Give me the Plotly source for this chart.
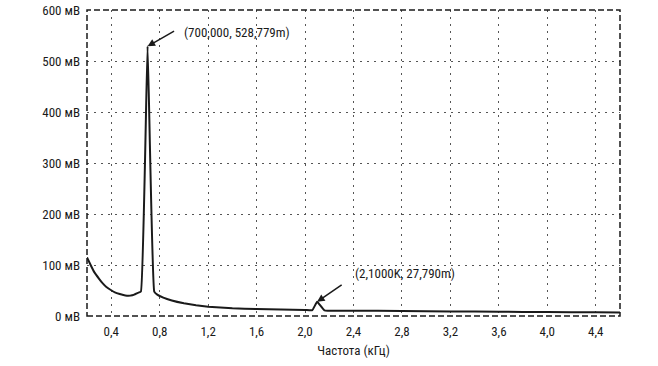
import plotly.graph_objects as go

# Data (frequency in kHz, amplitude in mV)
freq_khz = [0.20, 0.23, 0.26, 0.30, 0.33, 0.36, 0.40, 0.43, 0.47, 0.50, 0.53, 0.56, 0.59,
            0.62, 0.645, 0.70, 0.755, 0.78, 0.83, 0.90, 1.00, 1.10, 1.20, 1.40, 1.60,
            1.80, 2.00, 2.06, 2.10, 2.16, 2.40, 2.80, 3.20, 3.60, 4.00, 4.40, 4.60]
ampl_mv = [115, 100, 86, 73, 64, 57, 50.5, 46.5, 43, 41, 39.8, 40, 42,
           45.5, 48, 528.779, 48, 42, 36, 30.5, 25, 21, 18.3, 15, 13.7,
           12.8, 12, 11.5, 27.79, 11, 10.5, 9.8, 9, 8.3, 7.7, 7.2, 7]

x_tickvals = [0.4, 0.8, 1.2, 1.6, 2.0, 2.4, 2.8, 3.2, 3.6, 4.0, 4.4]
x_ticktext = ["0,4", "0,8", "1,2", "1,6", "2,0", "2,4", "2,8", "3,2", "3,6", "4,0", "4,4"]
y_tickvals = [0, 100, 200, 300, 400, 500, 600]
y_ticktext = ["0 мВ", "100 мВ", "200 мВ", "300 мВ", "400 мВ", "500 мВ", "600 мВ"]

peak1 = (0.7, 528.779, "(700,000, 528,779m)")
peak2 = (2.1, 27.79, "(2,1000K, 27,790m)")

FONT = "Liberation Sans Narrow, Arial Narrow, Roboto Condensed, Roboto, sans-serif"
INK = "#1a1a1a"

fig = go.Figure()
fig.add_trace(go.Scatter(x=freq_khz, y=ampl_mv, mode="lines",
                         line=dict(color=INK, width=2, shape="spline", smoothing=0.3),
                         hoverinfo="skip"))

fig.update_layout(
    width=658, height=366,
    margin=dict(l=87, r=38, t=10, b=50),
    paper_bgcolor="white", plot_bgcolor="white",
    showlegend=False,
    font=dict(family=FONT, size=13, color=INK),
)
fig.update_xaxes(range=[0.2, 4.6], tickvals=x_tickvals, ticktext=x_ticktext,
                 showgrid=True, gridcolor="#555", gridwidth=1, griddash="2px,5px",
                 zeroline=False, showline=False, ticks="", ticklabelstandoff=6,
                 automargin=False,
                 title=dict(text="Частота (кГц)", standoff=7, font=dict(size=13)))
fig.update_yaxes(range=[0, 600], tickvals=y_tickvals, ticktext=y_ticktext,
                 showgrid=True, gridcolor="#555", gridwidth=1, griddash="2px,5px",
                 zeroline=False, showline=False, ticks="", ticklabelstandoff=6,
                 automargin=False)

fig.add_shape(type="rect", xref="paper", yref="paper", x0=0, x1=1, y0=0, y1=1,
              line=dict(color=INK, width=1.5, dash="6px,3px"), layer="above")

# arrows
fig.add_annotation(x=peak1[0], y=peak1[1], text="", showarrow=True, ax=28, ay=-16,
                   arrowhead=2, arrowsize=1, arrowwidth=1.5, arrowcolor=INK)
fig.add_annotation(x=peak2[0], y=peak2[1], text="", showarrow=True, ax=26, ay=-18,
                   arrowhead=2, arrowsize=1, arrowwidth=1.5, arrowcolor=INK)
# labels
fig.add_annotation(x=0.985, y=555, text=peak1[2], showarrow=False,
                   xanchor="left", yanchor="middle", font=dict(size=13, color=INK))
fig.add_annotation(x=2.395, y=83, text=peak2[2], showarrow=False,
                   xanchor="left", yanchor="middle", font=dict(size=13, color=INK))

fig.write_html("out.html", config={"displayModeBar": False},
               post_script="document.body.style.margin='0px';document.body.style.overflow='hidden';")
